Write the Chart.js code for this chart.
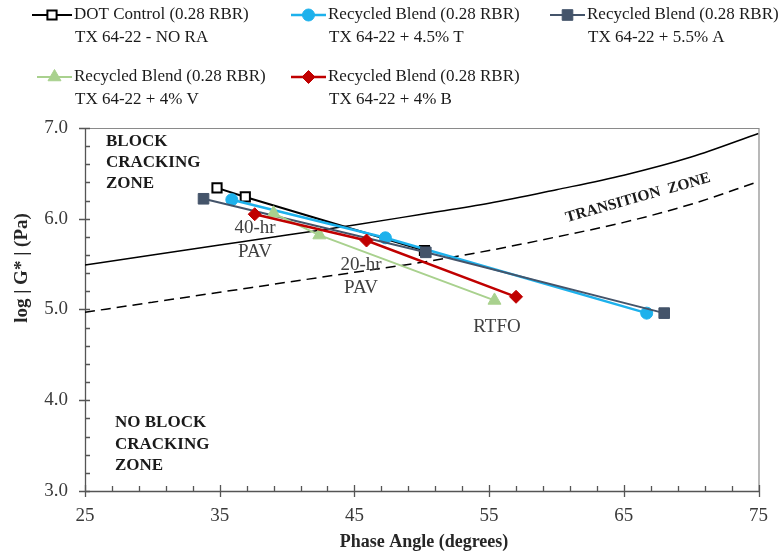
<!DOCTYPE html>
<html>
<head>
<meta charset="utf-8">
<script src="https://cdn.jsdelivr.net/npm/chart.js@4.4.0/dist/chart.umd.min.js"></script>
<style>
  html, body { margin: 0; padding: 0; background: #ffffff; }
  canvas { display: block; }
</style>
</head>
<body>
<canvas id="chart" width="782" height="559"></canvas>
<script>
// Phase angle grid for the two cracking-zone boundary curves
const phaseGrid = [25, 30, 35, 40, 45, 50, 55, 60, 65, 70, 75];
const onsetBoundary = [5.49, 5.60, 5.71, 5.82, 5.93, 6.05, 6.17, 6.32, 6.48, 6.68, 6.94];       // solid
const damageBoundary = [4.97, 5.08, 5.19, 5.30, 5.41, 5.52, 5.65, 5.80, 5.96, 6.16, 6.41];      // dashed

// Binder ageing paths (phase angle, log|G*|)
const dotPhase = [34.8, 36.9, 50.2];
const dotLogG = [6.34, 6.24, 5.65];
const tPhase = [35.9, 47.3, 66.7];
const tLogG = [6.21, 5.79, 4.96];
const aPhase = [33.8, 50.3, 68.0];
const aLogG = [6.22, 5.63, 4.96];
const vPhase = [39.0, 42.4, 55.4];
const vLogG = [6.06, 5.82, 5.10];
const bPhase = [37.6, 45.9, 57.0];
const bLogG = [6.05, 5.76, 5.14];

const xTickValues = [25, 35, 45, 55, 65, 75];
const yTickValues = [3, 4, 5, 6, 7];

const seriesNames = [
  ['DOT Control (0.28 RBR)', 'TX 64-22 - NO RA'],
  ['Recycled Blend (0.28 RBR)', 'TX 64-22 + 4.5% T'],
  ['Recycled Blend (0.28 RBR)', 'TX 64-22 + 5.5% A'],
  ['Recycled Blend (0.28 RBR)', 'TX 64-22 + 4% V'],
  ['Recycled Blend (0.28 RBR)', 'TX 64-22 + 4% B']
];

const SERIF = '"Liberation Serif", "Times New Roman", serif';

function pts(xs, ys) { return xs.map((x, i) => ({ x: x, y: ys[i] })); }

const styles = [
  { color: '#000000', fill: '#ffffff', shape: 'rect', r: 6.5, bw: 2, lw: 2 },
  { color: '#1DB1EC', fill: '#1DB1EC', shape: 'circle', r: 6, bw: 1, lw: 2.5 },
  { color: '#44546A', fill: '#44546A', shape: 'rect', r: 7.5, bw: 1, lw: 2 },
  { color: '#A9D18E', fill: '#A9D18E', shape: 'triangle', r: 7.5, bw: 1, lw: 2 },
  { color: '#C00000', fill: '#C00000', shape: 'rectRot', r: 6.5, bw: 1, lw: 2.5 }
];
const seriesData = [pts(dotPhase, dotLogG), pts(tPhase, tLogG), pts(aPhase, aLogG), pts(vPhase, vLogG), pts(bPhase, bLogG)];

const datasets = [
  {
    label: 'onset', data: pts(phaseGrid, onsetBoundary), borderColor: '#000000', borderWidth: 1.5,
    pointRadius: 0, cubicInterpolationMode: 'monotone', order: 20
  },
  {
    label: 'damage', data: pts(phaseGrid, damageBoundary), borderColor: '#000000', borderWidth: 1.5,
    borderDash: [10, 6], pointRadius: 0, cubicInterpolationMode: 'monotone', order: 21
  }
];
seriesData.forEach((d, i) => {
  const s = styles[i];
  datasets.push({
    label: seriesNames[i].join(' '), data: d,
    borderColor: s.color, borderWidth: s.lw,
    pointStyle: s.shape, pointRadius: s.r, pointBorderWidth: s.bw,
    pointBackgroundColor: s.fill, pointBorderColor: s.color,
    order: 10 - i
  });
});

// Axis lines, frame and tick marks
const axesPlugin = {
  id: 'axesFrame',
  beforeDatasetsDraw(chart) {
    const { ctx, chartArea: a, scales: { x, y } } = chart;
    ctx.save();
    ctx.strokeStyle = '#8a8a8a';
    ctx.lineWidth = 1.2;
    ctx.beginPath();
    ctx.moveTo(a.left, a.top + 0.5); ctx.lineTo(a.right + 0.5, a.top + 0.5); ctx.lineTo(a.right + 0.5, a.bottom);
    ctx.stroke();
    ctx.strokeStyle = '#555555';
    ctx.lineWidth = 1.3;
    ctx.beginPath();
    ctx.moveTo(a.left + 0.5, a.top); ctx.lineTo(a.left + 0.5, a.bottom + 0.5); ctx.lineTo(a.right + 0.5, a.bottom + 0.5);
    ctx.stroke();
    ctx.beginPath();
    for (let v = 3; v <= 7.0001; v += 0.2) {
      const py = Math.round(y.getPixelForValue(v)) + 0.5;
      const major = Math.abs(v - Math.round(v)) < 1e-6;
      ctx.moveTo(major ? a.left - 6 : a.left, py);
      ctx.lineTo(a.left + 5, py);
    }
    for (let v = 25; v <= 75.0001; v += 2) {
      const px = Math.round(x.getPixelForValue(v)) + 0.5;
      const major = Math.abs((v - 25) % 10) < 1e-6;
      ctx.moveTo(px, a.bottom - (major ? 6 : 5));
      ctx.lineTo(px, a.bottom + (major ? 6 : 0));
    }
    ctx.stroke();
    ctx.restore();
  }
};

function drawMarker(ctx, s, cx, cy) {
  Chart.helpers.drawPoint(ctx, { pointStyle: s.shape, radius: s.r, borderWidth: s.bw }, cx, cy);
}

// Annotations, titles and the two-line legend
const textPlugin = {
  id: 'labels',
  afterDraw(chart) {
    const { ctx } = chart;
    ctx.save();
    ctx.textBaseline = 'middle';

    // ageing stage labels
    ctx.fillStyle = '#404040';
    ctx.font = '19px ' + SERIF;
    ctx.textAlign = 'center';
    ctx.fillText('40-hr', 255, 228);
    ctx.fillText('PAV', 255, 252);
    ctx.fillText('20-hr', 361, 265);
    ctx.fillText('PAV', 361, 288);
    ctx.fillText('RTFO', 497, 327);

    // zone labels
    ctx.fillStyle = '#1a1a1a';
    ctx.font = 'bold 17px ' + SERIF;
    ctx.textAlign = 'left';
    ctx.fillText('BLOCK', 106, 142);
    ctx.fillText('CRACKING', 106, 163);
    ctx.fillText('ZONE', 106, 184);
    ctx.fillText('NO BLOCK', 115, 423);
    ctx.fillText('CRACKING', 115, 445);
    ctx.fillText('ZONE', 115, 466);

    ctx.save();
    ctx.translate(638, 198);
    ctx.rotate(-15.7 * Math.PI / 180);
    ctx.textAlign = 'center';
    ctx.font = 'bold 15.5px ' + SERIF;
    ctx.fillText('TRANSITION  ZONE', 0, 0);
    ctx.restore();

    // axis titles
    ctx.fillStyle = '#262626';
    ctx.font = 'bold 18px ' + SERIF;
    ctx.textAlign = 'center';
    ctx.fillText('Phase Angle (degrees)', 424, 542);
    ctx.save();
    ctx.translate(22, 268);
    ctx.rotate(-Math.PI / 2);
    ctx.font = 'bold 19px ' + SERIF;
    ctx.fillText('log | G* | (Pa)', 0, 0);
    ctx.restore();

    // legend
    const legendPos = [
      { lx: 32, tx: 74, y: 15 },
      { lx: 291, tx: 328, y: 15 },
      { lx: 550, tx: 587, y: 15 },
      { lx: 37, tx: 74, y: 77 },
      { lx: 291, tx: 328, y: 77 }
    ];
    legendPos.forEach((p, i) => {
      const s = styles[i];
      ctx.strokeStyle = s.color;
      ctx.lineWidth = s.lw;
      ctx.beginPath();
      ctx.moveTo(p.lx, p.y);
      ctx.lineTo(p.tx - 2, p.y);
      ctx.stroke();
      ctx.fillStyle = s.fill;
      ctx.strokeStyle = s.color;
      ctx.lineWidth = s.bw;
      drawMarker(ctx, s, (p.lx + p.tx - 2) / 2, p.y);
      ctx.fillStyle = '#1a1a1a';
      ctx.font = '17px ' + SERIF;
      ctx.textAlign = 'left';
      ctx.fillText(seriesNames[i][0], p.tx, p.y);
      ctx.fillText(seriesNames[i][1], p.tx + 1, p.y + 23);
    });
    ctx.restore();
  }
};

new Chart(document.getElementById('chart'), {
  type: 'line',
  data: { datasets: datasets },
  options: {
    responsive: false,
    animation: false,
    devicePixelRatio: 1,
    layout: { padding: { top: 128, right: 19, left: 0, bottom: 0 } },
    plugins: { legend: { display: false }, tooltip: { enabled: false } },
    scales: {
      x: {
        type: 'linear', min: 25, max: 75,
        afterBuildTicks(s) { s.ticks = xTickValues.map(v => ({ value: v })); },
        afterFit(s) { s.height = 68; },
        grid: { display: false, drawTicks: false },
        border: { display: false },
        ticks: { padding: 14, color: '#3a3a3a', font: { family: SERIF, size: 19 }, maxRotation: 0 }
      },
      y: {
        type: 'linear', min: 3, max: 7,
        afterBuildTicks(s) { s.ticks = yTickValues.map(v => ({ value: v })); },
        afterFit(s) { s.width = 85; },
        grid: { display: false, drawTicks: false },
        border: { display: false },
        ticks: { padding: 17, color: '#3a3a3a', font: { family: SERIF, size: 19 }, callback: v => Number(v).toFixed(1) }
      }
    }
  },
  plugins: [axesPlugin, textPlugin]
});
</script>
</body>
</html>
